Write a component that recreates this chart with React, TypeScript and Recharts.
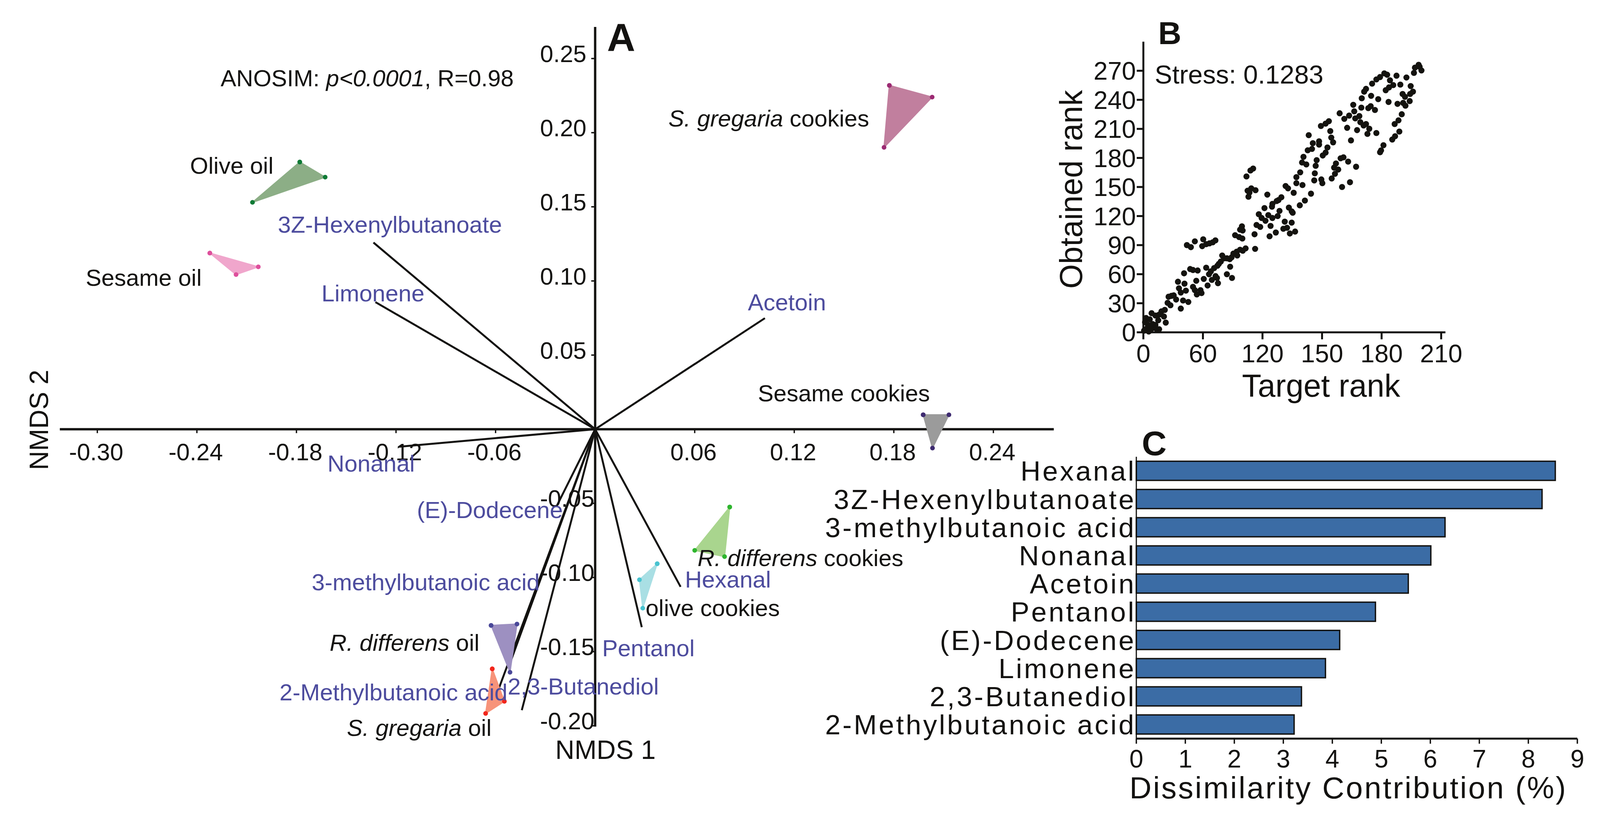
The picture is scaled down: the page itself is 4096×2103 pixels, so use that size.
import React from 'react';
import { ScatterChart, Scatter, XAxis, YAxis, ReferenceLine, BarChart, Bar } from 'recharts';

const FONT = "'Liberation Sans', Arial, Helvetica, sans-serif";
const INK = '#131210';
const PURPLE = '#4d4c9e';

// ---------------- Panel A : NMDS biplot ----------------
const xTickValuesA = [-0.3, -0.24, -0.18, -0.12, -0.06, 0.06, 0.12, 0.18, 0.24];
const xTickLabelsA = ['-0.30', '-0.24', '-0.18', '-0.12', '-0.06', '0.06', '0.12', '0.18', '0.24'];
const yTickValuesA = [0.25, 0.2, 0.15, 0.1, 0.05, -0.05, -0.1, -0.15, -0.2];
const yTickLabelsA = ['0.25', '0.20', '0.15', '0.10', '0.05', '-0.05', '-0.10', '-0.15', '-0.20'];
const axisExtentX = [-0.3226, 0.2764];
const axisExtentY = [-0.2006, 0.2713];

const vectorNames = ['3Z-Hexenylbutanoate', 'Limonene', 'Acetoin', 'Nonanal', '(E)-Dodecene', '3-methylbutanoic acid', '2-Methylbutanoic acid', '2,3-Butanediol', 'Pentanol', 'Hexanal'];
const vectorX = [-0.1336, -0.1324, 0.1023, -0.118, -0.0228, -0.0513, -0.0619, -0.0442, 0.0281, 0.0515];
const vectorY = [0.1259, 0.0857, 0.0749, -0.0118, -0.051, -0.1578, -0.1865, -0.1895, -0.1335, -0.1063];

const groupNames = ['Olive oil', 'Sesame oil', 'S. gregaria cookies', 'Sesame cookies', 'R. differens cookies', 'olive cookies', 'R. differens oil', 'S. gregaria oil'];
const groupFill = ['#8cae86', '#f0a6cc', '#c17f9e', '#9b9b9b', '#a9d58e', '#a9dfe4', '#9d90c1', '#f7937a'];
const groupDot = ['#0d7a35', '#de4f9c', '#9c2a73', '#3e2b70', '#2eb52e', '#48c3d0', '#4a4899', '#f2261c'];
const groupVertX = [
  [-0.178, -0.1627, -0.2065],
  [-0.2322, -0.203, -0.2164],
  [0.1773, 0.2031, 0.1741],
  [0.1977, 0.2132, 0.2033],
  [0.0811, 0.06, 0.078],
  [0.0374, 0.0267, 0.0287],
  [-0.0627, -0.0471, -0.0513],
  [-0.062, -0.0547, -0.066],
];
const groupVertY = [
  [0.1802, 0.17, 0.153],
  [0.1188, 0.1095, 0.1043],
  [0.2319, 0.224, 0.1901],
  [0.0097, 0.0097, -0.0127],
  [-0.0525, -0.0817, -0.0859],
  [-0.0907, -0.1015, -0.1207],
  [-0.1323, -0.1314, -0.1639],
  [-0.1616, -0.1835, -0.1917],
];

const compoundLabelText = ['3Z-Hexenylbutanoate', 'Limonene', 'Acetoin', 'Nonanal', '(E)-Dodecene', '3-methylbutanoic acid', '2-Methylbutanoic acid', '2,3-Butanediol', 'Pentanol', 'Hexanal'];
const compoundLabelX = [-0.1912, -0.1649, 0.092, -0.1613, -0.1074, -0.1708, -0.1902, -0.0527, 0.0042, 0.0541];
const compoundLabelY = [0.1325, 0.0861, 0.0802, -0.0285, -0.0599, -0.1086, -0.1829, -0.1789, -0.1532, -0.1067];

const groupLabelParts: [string, boolean][][] = [
  [['ANOSIM: ', false], ['p<0.0001', true], [', R=0.98', false]],
  [['Olive oil', false]],
  [['Sesame oil', false]],
  [['S. gregaria', true], [' cookies', false]],
  [['Sesame cookies', false]],
  [['R. differens', true], [' cookies', false]],
  [['olive cookies', false]],
  [['R. differens', true], [' oil', false]],
  [['S. gregaria', true], [' oil', false]],
];
const groupLabelX = [-0.2257, -0.2441, -0.307, 0.0442, 0.0981, 0.0617, 0.0304, -0.16, -0.1496];
const groupLabelY = [0.2314, 0.1722, 0.0968, 0.2042, 0.0188, -0.0922, -0.1259, -0.1494, -0.2068];

const axisTitleText = ['NMDS 1', 'NMDS 2'];
const axisTitleX = [-0.024, -0.3298];
const axisTitleY = [-0.2224, 0.0063];
const axisTitleRotate = [0, -90];

// ---------------- Panel B : Shepard plot ----------------
const bXTickPos = [0, 42, 84, 126, 168, 210];
const bXTickLabels = ['0', '60', '120', '150', '180', '210'];
const bYTicks = [0, 30, 60, 90, 120, 150, 180, 210, 240, 270];
const bTarget = [
  30.7, 33.5, 36.3, 42.2, 41.5, 44.3, 46.6, 48.9, 50.8, 69.5, 68.2, 70.0, 64.7, 67.5, 69.8, 78.4, 78.8, 72.1, 70.1, 68.2,
  65.8, 63.5, 66.2, 62.2, 60.9, 58.9, 55.6, 56.9, 53.2, 54.6, 52.2, 61.2, 58.9, 62.5, 44.3, 49.9, 47.6, 46.3, 50.9, 51.9,
  52.6, 48.3, 45.3, 42.6, 37.3, 35.0, 36.3, 37.7, 40.3, 41.0, 38.3, 35.0, 33.0, 28.7, 24.4, 29.0, 25.1, 26.4, 30.0, 19.8,
  21.4, 23.1, 17.8, 17.1, 19.1, 28.0, 31.7, 26.4, 15.1, 12.8, 11.1, 5.8, 8.5, 14.5, 15.8, 10.5, 6.5, 3.2, 1.9, 1.2,
  1.2, 3.8, 5.8, 9.1, 11.1, 8.5, 2.9, 0.5, 4.5,
  77.4, 75.5, 72.7, 73.5, 76.1, 79.1, 74.1, 74.8, 87.4, 100.3, 102.0, 106.0, 97.3, 95.3, 94.0, 91.0, 90.7, 85.4, 81.4, 83.4,
  86.1, 88.1, 91.0, 94.7, 96.0, 102.6, 104.6, 105.3, 99.7, 104.6, 98.7, 101.3, 103.3, 107.0, 93.4, 89.0, 89.7, 79.8, 82.4, 110.3,
  113.9, 118.2, 107.9, 110.6, 107.9, 112.2, 120.9, 120.5, 125.5, 126.2, 122.2, 121.5, 111.9, 114.9, 112.9, 115.9, 118.9, 119.5, 123.9, 123.9,
  128.5, 126.5, 129.8, 132.5, 133.8, 146.4, 139.1, 141.1, 144.4, 135.8, 134.5, 137.4, 135.1, 132.8, 150.0, 145.7, 140.1, 116.6,
  194.1, 191.5, 196.1, 190.8, 194.8, 185.5, 178.5, 181.2, 188.5, 190.1, 188.1, 182.8, 184.5, 187.8, 183.2, 184.8, 179.2, 172.9, 165.6, 160.6,
  154.0, 155.7, 157.0, 161.3, 164.3, 166.9, 169.9, 171.9, 173.9, 176.2, 173.2, 170.9, 148.0, 153.7, 148.7, 158.6, 160.3, 163.3, 138.4, 141.7,
  145.1, 149.4, 152.3, 153.0, 155.3, 157.0, 159.3, 158.0, 164.3, 143.7, 150.7, 130.8, 128.5, 125.2, 131.8, 182.2, 179.9, 177.2, 180.5, 177.5,
  175.5, 169.3, 167.6, 166.9,
];
const bObtained = [
  90.0, 87.9, 93.9, 96.0, 88.9, 91.0, 91.8, 92.9, 94.9, 109.4, 106.0, 105.1, 100.2, 98.3, 96.8, 101.2, 86.1, 86.6, 84.2, 85.2,
  83.2, 81.3, 79.3, 77.4, 75.5, 76.4, 79.3, 76.4, 70.6, 73.0, 68.7, 67.7, 59.9, 56.1, 66.7, 66.3, 62.9, 59.9, 58.0, 56.1,
  50.7, 54.1, 48.3, 55.1, 53.2, 46.9, 43.5, 39.1, 43.5, 40.5, 63.8, 64.3, 65.3, 60.9, 52.2, 50.2, 45.4, 41.0, 43.0, 37.6,
  38.1, 33.8, 36.7, 30.4, 27.9, 32.8, 31.3, 24.5, 23.1, 21.6, 18.2, 19.7, 17.3, 16.3, 10.0, 12.4, 8.5, 7.6, 14.8, 10.5,
  2.7, 0.8, 3.7, 3.7, 3.2, 7.6, 4.7, 1.7, 13.4,
  169.0, 167.0, 160.9, 146.2, 148.6, 146.7, 139.9, 144.2, 142.1, 151.0, 148.6, 144.0, 139.4, 136.5, 135.5, 132.6, 129.7, 128.2, 121.9, 118.0,
  115.1, 121.0, 118.0, 120.0, 125.3, 128.7, 124.8, 123.4, 114.2, 113.2, 106.9, 107.9, 102.0, 104.0, 103.0, 99.1, 109.8, 110.8, 108.8, 131.1,
  136.0, 143.1, 160.2, 165.1, 153.9, 152.0, 164.1, 156.8, 157.8, 153.9, 177.7, 171.9, 175.3, 173.3, 181.1, 187.9, 189.3, 195.2, 197.1, 193.7,
  185.5, 182.5, 190.8, 201.0, 196.1, 198.1, 179.6, 180.6, 176.2, 174.3, 170.0, 168.0, 163.6, 158.8, 170.9, 154.9, 150.0, 203.5,
  276.1, 273.2, 270.3, 267.8, 274.1, 263.0, 264.9, 255.7, 254.2, 248.4, 246.0, 246.0, 243.1, 238.7, 236.8, 233.9, 235.8, 237.8, 240.7, 244.1,
  241.6, 248.4, 251.3, 256.7, 261.0, 263.5, 267.3, 265.9, 260.1, 255.2, 252.8, 249.9, 234.8, 231.9, 228.1, 231.4, 233.4, 229.5, 226.1, 220.3,
  223.7, 220.8, 223.2, 216.9, 213.5, 215.0, 210.1, 204.8, 205.7, 211.1, 208.7, 217.9, 215.4, 213.0, 207.7, 225.1, 218.8, 215.0, 207.2, 202.4,
  199.0, 193.1, 187.8, 185.9,
];

// ---------------- Panel C : dissimilarity contribution ----------------
const cCompounds = ['Hexanal', '3Z-Hexenylbutanoate', '3-methylbutanoic acid', 'Nonanal', 'Acetoin', 'Pentanol', '(E)-Dodecene', 'Limonene', '2,3-Butanediol', '2-Methylbutanoic acid'];
const cContribution = [8.55, 8.28, 6.3, 6.01, 5.55, 4.88, 4.15, 3.86, 3.37, 3.22];
const cTicks = [0, 1, 2, 3, 4, 5, 6, 7, 8, 9];

// ---------------- shapes ----------------
const XTickShapeA = (p: any) => (
  <g>
    <line x1={p.cx} y1={p.cy} x2={p.cx} y2={p.cy + 10} stroke={INK} strokeWidth={3.5} />
    <text x={p.cx - 3} y={p.cy + 80} textAnchor="middle" fontSize={61} fontFamily={FONT} fill={INK}>
      {p.payload.label}
    </text>
  </g>
);

const YTickShapeA = (p: any) => (
  <g>
    <line x1={p.cx - 10} y1={p.cy} x2={p.cx} y2={p.cy} stroke={INK} strokeWidth={3.5} />
    <text x={p.cx - 141} y={p.cy + 9} textAnchor="start" fontSize={61} fontFamily={FONT} fill={INK}>
      {p.payload.label}
    </text>
  </g>
);

const LabelShape = (p: any) => (
  <text x={p.cx} y={p.cy} fontSize={60} fontFamily={FONT} fill={p.payload.color} style={{ whiteSpace: 'pre' }}>
    {p.payload.parts.map((pt: [string, boolean], k: number) => (
      <tspan key={k} fontStyle={pt[1] ? 'italic' : 'normal'}>
        {pt[0]}
      </tspan>
    ))}
  </text>
);

const TitleShape = (p: any) => (
  <text
    x={p.cx}
    y={p.cy}
    fontSize={68}
    fontFamily={FONT}
    fill={INK}
    textAnchor={p.payload.rotate ? 'middle' : 'start'}
    transform={p.payload.rotate ? `rotate(${p.payload.rotate} ${p.cx} ${p.cy})` : undefined}
  >
    {p.payload.label}
  </text>
);

const DotShape = (color: string, r: number) => (p: any) => <circle cx={p.cx} cy={p.cy} r={r} fill={color} />;

const CYTick = (p: any) => (
  <text
    x={p.x}
    y={p.y}
    dy="0.355em"
    textAnchor="end"
    fontSize={71}
    fontFamily={FONT}
    fill={INK}
    style={{ letterSpacing: '5px' }}
  >
    {p.payload.value}
  </text>
);

const App = () => {
  const xTickDataA = xTickValuesA.map((v, i) => ({ x: v, y: 0, label: xTickLabelsA[i] }));
  const yTickDataA = yTickValuesA.map((v, i) => ({ x: 0, y: v, label: yTickLabelsA[i] }));
  const compoundLabels = compoundLabelText.map((t, i) => ({
    x: compoundLabelX[i],
    y: compoundLabelY[i],
    parts: [[t, false]],
    color: PURPLE,
  }));
  const groupLabels = groupLabelParts.map((parts, i) => ({
    x: groupLabelX[i],
    y: groupLabelY[i],
    parts,
    color: INK,
  }));
  const titles = axisTitleText.map((t, i) => ({ x: axisTitleX[i], y: axisTitleY[i], label: t, rotate: axisTitleRotate[i] }));
  const bData = bTarget.map((t, i) => ({ x: t, y: bObtained[i] }));
  const cData = cCompounds.map((n, i) => ({ name: n, value: cContribution[i] }));

  return (
    <div style={{ position: 'absolute', left: 0, top: 0, width: 4096, height: 2103, background: '#fff', overflow: 'hidden' }}>
      {/* Panel A */}
      <div style={{ position: 'absolute', left: 0, top: 0 }}>
        <ScatterChart width={2753} height={2100} margin={{ top: 36, right: 40, bottom: 127, left: 58 }}>
          <XAxis type="number" dataKey="x" domain={[-0.345, 0.28]} hide />
          <YAxis type="number" dataKey="y" domain={[-0.23, 0.28]} hide />
          {groupNames.map((g, gi) => {
            const pts = groupVertX[gi].map((x, k) => ({ x, y: groupVertY[gi][k] }));
            const closed = [...pts, pts[0]];
            return (
              <Scatter
                key={g}
                name={g}
                data={closed}
                fill={groupDot[gi]}
                line={{ fill: groupFill[gi], stroke: groupFill[gi], strokeWidth: 3, strokeLinejoin: 'round' } as any}
                lineJointType="linear"
                shape={DotShape(groupDot[gi], 6)}
                isAnimationActive={false}
              />
            );
          })}
          <ReferenceLine
            segment={[{ x: axisExtentX[0], y: 0 }, { x: axisExtentX[1], y: 0 }]}
            stroke={INK}
            strokeWidth={6}
          />
          <ReferenceLine
            segment={[{ x: 0, y: axisExtentY[0] }, { x: 0, y: axisExtentY[1] }]}
            stroke={INK}
            strokeWidth={6}
          />
          {vectorNames.map((n, i) => (
            <ReferenceLine
              key={n}
              segment={[{ x: 0, y: 0 }, { x: vectorX[i], y: vectorY[i] }]}
              stroke={INK}
              strokeWidth={5}
            />
          ))}
          <Scatter data={xTickDataA} shape={XTickShapeA} isAnimationActive={false} />
          <Scatter data={yTickDataA} shape={YTickShapeA} isAnimationActive={false} />
          <Scatter data={compoundLabels} shape={LabelShape} isAnimationActive={false} />
          <Scatter data={groupLabels} shape={LabelShape} isAnimationActive={false} />
          <Scatter data={titles} shape={TitleShape} isAnimationActive={false} />
        </ScatterChart>
      </div>

      {/* Panel C */}
      <div style={{ position: 'absolute', left: 2000, top: 1100 }}>
        <BarChart
          width={2096}
          height={1003}
          layout="vertical"
          data={cData}
          margin={{ top: 70, right: 58, bottom: 61, left: 0 }}
          barCategoryGap="16%"
        >
          <XAxis
            type="number"
            domain={[0, 9]}
            ticks={cTicks}
            interval={0}
            height={150}
            axisLine={{ stroke: INK, strokeWidth: 5 }}
            tickLine={{ stroke: INK, strokeWidth: 3.5 }}
            tickSize={13}
            tickMargin={16}
            tick={{ fontSize: 64, fill: INK, fontFamily: FONT }}
          />
          <YAxis
            type="category"
            dataKey="name"
            width={909}
            interval={0}
            axisLine={{ stroke: INK, strokeWidth: 3 }}
            tickLine={false}
            tickSize={0}
            tickMargin={1}
            tick={CYTick}
          />
          <Bar dataKey="value" fill="#3b6ca5" stroke={INK} strokeWidth={3.5} isAnimationActive={false} />
        </BarChart>
      </div>

      {/* Panel B */}
      <div style={{ position: 'absolute', left: 2600, top: 0 }}>
        <ScatterChart width={1200} height={1100} margin={{ top: 106.8, right: 99.7, bottom: 98.8, left: 0 }}>
          <XAxis
            type="number"
            dataKey="x"
            domain={[0, 213]}
            ticks={bXTickPos}
            interval={0}
            height={150}
            tickFormatter={(v: number) => bXTickLabels[bXTickPos.indexOf(v)]}
            axisLine={{ stroke: INK, strokeWidth: 5 }}
            tickLine={{ stroke: INK, strokeWidth: 5 }}
            tickSize={18}
            tickMargin={13}
            tick={{ fontSize: 65, fill: INK, fontFamily: FONT }}
          />
          <YAxis
            type="number"
            dataKey="y"
            domain={[0, 300]}
            ticks={bYTicks}
            interval={0}
            width={327}
            axisLine={{ stroke: INK, strokeWidth: 5 }}
            tickLine={{ stroke: INK, strokeWidth: 5 }}
            tickSize={17}
            tickMargin={2}
            tick={{ fontSize: 65, fill: INK, fontFamily: FONT }}
          />
          <Scatter data={bData} shape={DotShape('#14130f', 7.8)} isAnimationActive={false} />
        </ScatterChart>
      </div>

      {/* Panel letters and axis titles */}
      <svg width={4096} height={2103} style={{ position: 'absolute', left: 0, top: 0, pointerEvents: 'none' }}>
        <g fontFamily={FONT} fill={INK}>
          <text x={1554} y={131} fontSize={100} fontWeight="bold">A</text>
          <text x={2965} y={113} fontSize={82} fontWeight="bold">B</text>
          <text x={2923} y={1166} fontSize={88} fontWeight="bold">C</text>
          <text x={2956} y={214} fontSize={67}>Stress: 0.1283</text>
          <text x={2770} y={485} fontSize={81} textAnchor="middle" transform="rotate(-90 2770 485)">Obtained rank</text>
          <text x={3382} y={1016} fontSize={81} textAnchor="middle">Target rank</text>
          <text x={3452} y={2045} fontSize={78} textAnchor="middle" style={{ letterSpacing: '4px' }}>Dissimilarity Contribution (%)</text>
        </g>
      </svg>
    </div>
  );
};

export default App;
